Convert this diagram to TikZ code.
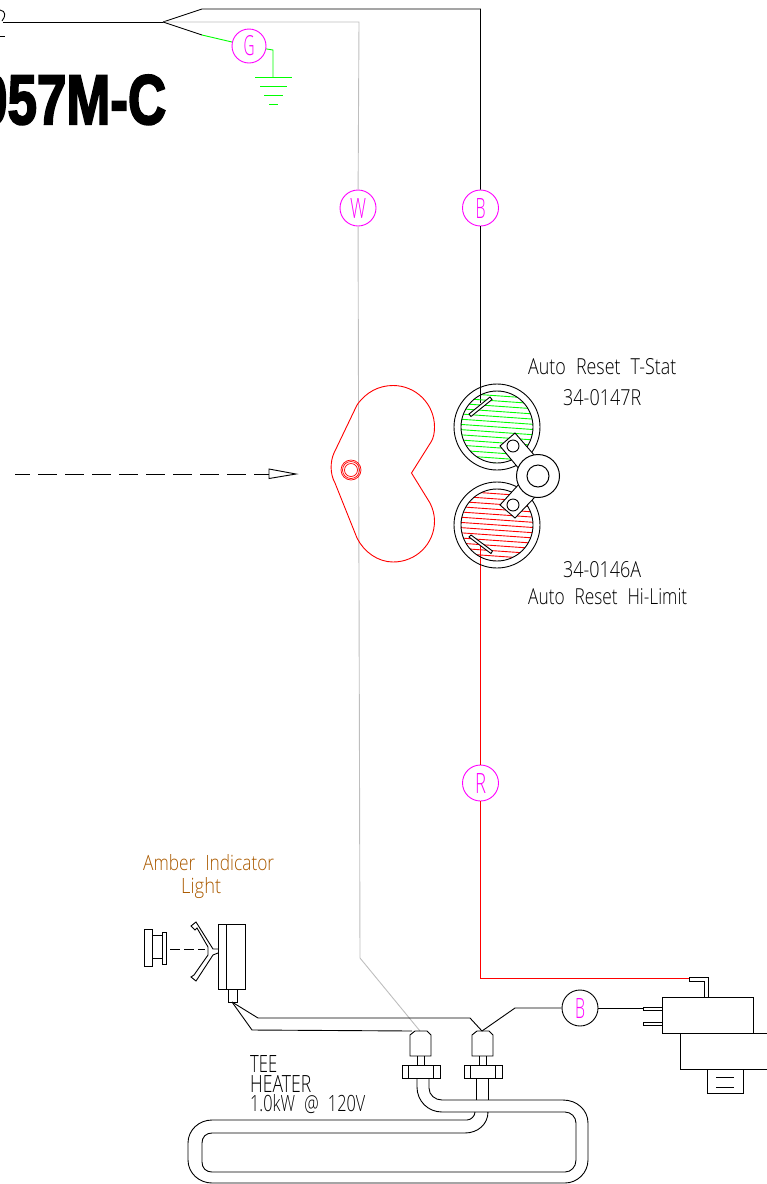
\documentclass[tikz,border=0pt]{standalone}
\usepackage{fontspec}
\usepackage{graphicx}
\setmainfont[WordSpace=2.2]{Open Sans Light}
\newfontfamily\ttlfont[FakeBold=3]{Liberation Sans Bold}
\newcommand{\fit}[3]{\resizebox{#1pt}{#2pt}{#3}}
\definecolor{magen}{RGB}{255,0,255}
\definecolor{amber}{RGB}{170,90,0}
\definecolor{wgrey}{RGB}{190,190,190}
\definecolor{gr}{RGB}{0,255,0}
\tikzset{
  ln/.style={line width=0.9pt,black},
  tag/.style={circle,draw=magen,line width=0.9pt,minimum size=36pt,inner sep=0pt,text=magen},
  tagk/.style={tag,draw=black},
  lab/.style={inner sep=0pt,anchor=base west},
  hatchg/.style={line width=0.9pt,gr},
  hatchr/.style={line width=0.9pt,red},
}
\begin{document}
\begin{tikzpicture}[x=1pt,y=-1pt]
\useasboundingbox (0,0) rectangle (767,1184);
\clip (0,0) rectangle (767,1184);
% title
\node[lab] at (-22,124) {\ttlfont\resizebox{188pt}{49pt}{057M-C}};
\draw[ln] (0,10) .. controls (6,11) and (6,16) .. (2,21);
\draw[ln] (0,36) -- (5,36);
% coordinates
\coordinate (split) at (163,22);
\coordinate (blk1) at (202,9);
\coordinate (blk2) at (480.5,9);
\coordinate (gr1) at (202,35);
\coordinate (gr2) at (273,50);
\coordinate (gr3) at (273,77);
\coordinate (wh1) at (359,22);
\coordinate (wh2) at (360,958);
\coordinate (con1) at (420,1031);
\coordinate (con2) at (482,1031);
\coordinate (tstop) at (480.5,403);
\coordinate (rbot) at (480.5,545);
\coordinate (rcor) at (480.5,978.5);
\coordinate (rend) at (689,978.5);
\coordinate (lamp) at (232,1002);
% tags
\node[tag] (W) at (358,208) {\fit{16}{20}{W}};
\node[tag] (B) at (480.5,208) {\fit{10}{20}{B}};
\node[tag,minimum size=34pt] (G) at (249,46) {\fit{11}{20}{G}};
\node[tag] (R) at (480.5,783) {\fit{11}{20}{R}};
\node[tagk] (B2) at (580,1008) {\fit{10}{20}{B}};
% wires
\draw[ln] (3,22) -- (split);
\draw[ln] (split) -- (blk1) -- (blk2) -- (B);
\draw[ln] (B) -- (tstop);
\draw[line width=0.9pt,wgrey] (split) -- (wh1) -- (W);
\draw[line width=0.9pt,wgrey] (W) -- (wh2) -- (con1);
\draw[ln] (split) -- (gr1);
\draw[line width=0.9pt,gr] (gr1) -- (G);
\draw[line width=0.9pt,gr] (G) -- (gr2) -- (gr3);
\foreach \y/\a/\b in {77/255/292,86/260/287,95/264/283,104/269/278}
  \draw[line width=1pt,gr] (\a,\y) -- (\b,\y);
\draw[line width=0.9pt,red] (rbot) -- (R);
\draw[line width=0.9pt,red] (R) -- (rcor) -- (rend);
% arrow
\draw[ln,dash pattern=on 19pt off 8pt,dash phase=4pt] (15,474) -- (269,474);
\draw[ln] (269,469) -- (296,474) -- (269,478.5) -- cycle;
% heart
\draw[line width=0.9pt,red] (357,405) .. controls (366,392) and (379,385.5) .. (393,385.5)
  .. controls (416,385.5) and (434.5,404) .. (434.5,427)
  .. controls (434.5,433) and (433.5,438) .. (431,442) -- (411.5,473) -- (430,503)
  .. controls (433,509) and (434.5,515) .. (434.5,521)
  .. controls (434.5,544) and (416,562) .. (393,562)
  .. controls (378,562) and (364,552) .. (357,538) -- (335,483)
  .. controls (330,474) and (330,462) .. (334,453) -- cycle;
\draw[line width=0.7pt,red] (351,470) circle (10) (351,470) circle (8.5) (351,470) circle (6.5);
% discs
\begin{scope}
\clip (497,427) circle (36);
\foreach \k in {-7,...,7} \draw[hatchg] (455,{427+\k*5.2-3}) -- (540,{427+\k*5.2+3});
\end{scope}
\begin{scope}
\clip (497,525) circle (36);
\foreach \k in {-7,...,7} \draw[hatchr] (455,{525+\k*5.2-3}) -- (540,{525+\k*5.2+3});
\end{scope}
\foreach \c in {427,525} \draw[ln] (497,\c) circle (43) (497,\c) circle (36);
% tabs and nut
\draw[ln,fill=white] (500,446) -- (515,433) -- (535,456) -- (520,470) -- cycle;
\draw[ln,fill=white] (500,505) -- (515,518) -- (535,497) -- (520,483) -- cycle;
\draw[ln] (513,446) circle (6) (513,505) circle (6);
\draw[line width=1pt,fill=white] (538,476) circle (21.5);
\draw[line width=1pt] (538,476) circle (11);
% slots
\draw[ln,fill=white] (469,414) -- (490,397) -- (492,399.5) -- (471,416.5) -- cycle;
\draw[ln,fill=white] (469,537) -- (491,553.5) -- (492.5,551) -- (471,535) -- cycle;
% labels
\node[lab] at (528,374) {\fit{148}{16}{Auto Reset T-Stat}};
\node[lab] at (563,405) {\fit{78}{16}{34-0147R}};
\node[lab] at (563,577) {\fit{78}{16}{34-0146A}};
\node[lab] at (528,604) {\fit{159}{16}{Auto Reset Hi-Limit}};
\node[lab,text=amber] at (143,870) {\fit{131}{16}{Amber Indicator}};
\node[lab,text=amber] at (181,893) {\fit{40}{16}{Light}};
\node[lab] at (250,1072) {\fit{27}{17}{TEE}};
\node[lab] at (250,1092) {\fit{61}{17}{HEATER}};
\node[lab] at (250,1111) {\fit{115}{17}{1.0kW @ 120V}};
% lamp
\draw[ln] (218,924) rectangle (245,989) (226,924) -- (226,989);
\draw[ln] (228,989) rectangle (237,1002);
\draw[ln] (144,929) rectangle (152,966) (152,935) rectangle (162,958) (162,932) rectangle (166,964);
\draw[ln,dash pattern=on 10pt off 4pt] (170,949) -- (205,949);
\draw[ln] (218,949) -- (213,949) -- (196,922) -- (191,926) -- (195,930) -- (197,928) -- (208,947) -- (208,955) -- (194,975) -- (191,977) -- (196,981) -- (213,955) -- (218,953);
% lamp wires
\draw[ln] (lamp) -- (258,1018) -- (470,1018) -- (con2);
\draw[ln] (lamp) -- (252,1030) -- (412,1031);
% connectors
\foreach \dx in {0,62}{
  \begin{scope}[xshift=\dx pt]
  \draw[ln] (410,1056) -- (410,1035) -- (415,1031) -- (427,1031) -- (431,1035) -- (431,1056) -- cycle;
  \draw[ln] (417,1056) -- (417,1065) (424,1056) -- (424,1065);
  \draw[ln] (402,1065) rectangle (440,1078);
  \draw[ln] (408,1065) -- (408,1078) (433,1065) -- (433,1078);
  \end{scope}
}
% heater
\draw[ln] (417,1078) -- (417,1087) .. controls (417,1101) and (428,1112) .. (442,1112) -- (565,1112)
  .. controls (571,1112) and (576,1117) .. (576,1123) -- (576,1160)
  .. controls (576,1167) and (571,1172) .. (565,1172) -- (212,1172)
  .. controls (206,1172) and (202,1168) .. (202,1162) -- (202,1143)
  .. controls (202,1137) and (206,1133) .. (212,1133) -- (465,1133)
  .. controls (478,1133) and (488,1124) .. (488,1112);
\draw[ln] (429,1078) -- (429,1088) .. controls (429,1095) and (435,1100) .. (442,1100) -- (563,1100)
  .. controls (577,1100) and (588,1110) .. (588,1123) -- (588,1160)
  .. controls (588,1173) and (577,1183) .. (565,1183) -- (212,1183)
  .. controls (199,1183) and (188,1173) .. (188,1160) -- (188,1143)
  .. controls (188,1130) and (199,1120) .. (212,1120) -- (467,1120)
  .. controls (471,1120) and (475,1116) .. (475,1112);
\draw[ln] (476,1078) -- (476,1100) (488,1078) -- (488,1100);
% relay
\draw[ln] (con2) -- (515,1008) -- (B2);
\draw[ln] (B2) -- (643,1008);
\draw[ln] (662,997) rectangle (753,1033);
\draw[ln] (643,1007) rectangle (662,1010) (643,1022) rectangle (662,1025);
\draw[ln] (753,1033) -- (767,1033) (680,1033) -- (680,1069) -- (767,1069);
\draw[ln] (707,1069) -- (707,1093) -- (743,1093) -- (743,1069);
\draw[ln] (716,1077) -- (734,1077) (716,1087) -- (734,1087);
\draw[ln] (689,977) -- (708,977) -- (708,997) (689,981) -- (704,981) -- (704,997) (689,977) -- (689,981);
\end{tikzpicture}
\end{document}
